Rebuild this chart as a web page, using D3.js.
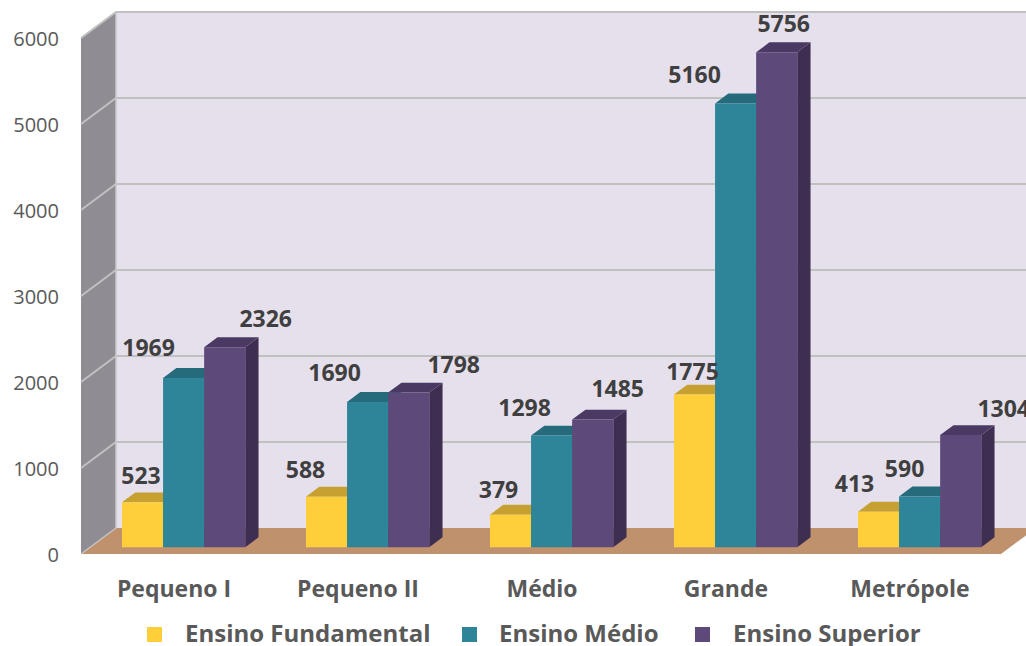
<!DOCTYPE html>
<html>
<head>
<meta charset="utf-8">
<script src="https://cdn.jsdelivr.net/npm/d3@7"></script>
<style>
  html, body { margin: 0; padding: 0; background: #ffffff; }
  svg { display: block; }
  text { font-family: "Open Sans", Lato, sans-serif; }
</style>
</head>
<body>
<svg id="chart" width="1026" height="646"></svg>
<script>
// ---- data ----
const categories = ["Pequeno I", "Pequeno II", "Médio", "Grande", "Metrópole"];
const seriesNames = ["Ensino Fundamental", "Ensino Médio", "Ensino Superior"];
const fundamental = [523, 588, 379, 1775, 413];
const medio = [1969, 1690, 1298, 5160, 590];
const superior = [2326, 1798, 1485, 5756, 1304];
const yTicks = [0, 1000, 2000, 3000, 4000, 5000, 6000];

// ---- layout / style (not data) ----
const seriesValues = [fundamental, medio, superior];
const colors = {
  front: ["#ffcf3b", "#2e8499", "#5e4a7a"],
  top:   ["#c6a030", "#256b7b", "#4a3a63"],
  side:  ["#b8922a", "#1f5b68", "#3e2f52"]
};
// label nudges [dx from bar centre, dy of baseline from bar front top], per series per category
const labelNudge = [
  [[-1.5,-18],[-21,-19],[-12,-17],[-2,-15],[-24,-20]],
  [[-35,-22],[-33,-21],[-27,-20],[-41,-20],[-15,-20]],
  [[41,-20],[45,-20],[25,-23],[7,-20],[43,-18]]
];

const svg = d3.select("#chart");
const floorLeft = 81, floorRight = 1001, floorY = 554;
const DX = 35, DY = 26;          // depth vector of the floor
const plotH = 516;               // 0..6000

const y = d3.scaleLinear().domain([0, 6000]).range([0, plotH]);
const x0 = d3.scaleBand().domain(categories).range([floorLeft, floorRight]);
const groupW = x0.bandwidth() * 0.67;
const x1 = d3.scaleBand().domain(d3.range(seriesNames.length)).range([0, groupW]);

// projection: front-plane x, value, depth fraction
const P = (x, v, d) => [x + d * DX, floorY - y(v) - d * DY];
const poly = pts => "M" + pts.map(p => p.join(",")).join("L") + "Z";

// ---- walls ----
const gWalls = svg.append("g");
gWalls.append("path")
  .attr("d", poly([P(floorLeft, 6000, 1), P(floorRight + 40, 6000, 1), P(floorRight + 40, 0, 1), P(floorLeft, 0, 1)]))
  .attr("fill", "#e5e0ec");
gWalls.append("path")
  .attr("d", poly([P(floorLeft, 0, 0), P(floorLeft, 6000, 0), P(floorLeft, 6000, 1), P(floorLeft, 0, 1)]))
  .attr("fill", "#908c94");
gWalls.append("path")
  .attr("d", poly([P(floorLeft, 0, 0), P(floorRight, 0, 0), P(floorRight, 0, 1), P(floorLeft, 0, 1)]))
  .attr("fill", "#c0916d");

yTicks.forEach(t => {
  if (t === 0) {
    gWalls.append("line")
      .attr("x1", P(floorLeft, t, 0)[0]).attr("y1", P(floorLeft, t, 0)[1])
      .attr("x2", P(floorLeft, t, 1)[0]).attr("y2", P(floorLeft, t, 1)[1])
      .attr("stroke", "#c4c4c4").attr("stroke-width", 1.5);
    return;
  }
  const a = P(floorLeft, t, 0), b = P(floorLeft, t, 1), c = P(floorRight + 40, t, 1);
  gWalls.append("path")
    .attr("d", `M${a}L${b}L${c}`)
    .attr("fill", "none").attr("stroke", "#c0c0c0").attr("stroke-width", 2);
});
gWalls.append("line")
  .attr("x1", P(floorLeft, 0, 1)[0]).attr("y1", P(floorLeft, 0, 1)[1])
  .attr("x2", P(floorLeft, 6000, 1)[0]).attr("y2", P(floorLeft, 6000, 1)[1])
  .attr("stroke", "#c8c8c8").attr("stroke-width", 1.5);

// ---- y tick labels ----
svg.append("g").selectAll("text").data(yTicks).join("text")
  .attr("x", 59)
  .attr("y", d => P(floorLeft, d, 0)[1] + 8)
  .attr("text-anchor", "end")
  .attr("font-size", 20)
  .attr("fill", "#595959")
  .text(d => d);

// ---- bars ----
const dF = 0.26, dB = 0.64;
const bw = x1.bandwidth();
const groupOffset = (x0.bandwidth() - groupW) / 2 + 1.5;
const gBars = svg.append("g");
const barData = [];
categories.forEach((c, ci) => {
  seriesValues.forEach((vals, si) => {
    barData.push({ c, ci, si, v: vals[ci], x: x0(c) + groupOffset + x1(si) });
  });
});
barData.forEach(b => {
  const g = gBars.append("g");
  const xl = b.x, xr = b.x + bw;
  g.append("path")
    .attr("d", poly([P(xr, 0, dF), P(xr, b.v, dF), P(xr, b.v, dB), P(xr, 0, dB)]))
    .attr("fill", colors.side[b.si]);
  g.append("path")
    .attr("d", poly([P(xl, b.v, dF), P(xr, b.v, dF), P(xr, b.v, dB), P(xl, b.v, dB)]))
    .attr("fill", colors.top[b.si]);
  g.append("path")
    .attr("d", poly([P(xl, 0, dF), P(xr, 0, dF), P(xr, b.v, dF), P(xl, b.v, dF)]))
    .attr("fill", colors.front[b.si]);
});

// ---- data labels ----
svg.append("g").selectAll("text").data(barData).join("text")
  .attr("x", d => P(d.x + bw / 2, d.v, dF)[0] + labelNudge[d.si][d.ci][0])
  .attr("y", d => P(d.x + bw / 2, d.v, dF)[1] + labelNudge[d.si][d.ci][1])
  .attr("text-anchor", "middle")
  .attr("font-size", 23)
  .attr("font-weight", "bold")
  .attr("fill", "#3f3f3f")
  .text(d => d.v);

// ---- category labels ----
svg.append("g").selectAll("text").data(categories).join("text")
  .attr("x", d => x0(d) + x0.bandwidth() / 2 + 1)
  .attr("y", 597)
  .attr("text-anchor", "middle")
  .attr("font-size", 23)
  .attr("font-weight", "bold")
  .attr("fill", "#595959")
  .text(d => d);

// ---- legend ----
const legendX = [147, 462, 695];
const lg = svg.append("g").selectAll("g").data(seriesNames).join("g")
  .attr("transform", (d, i) => `translate(${legendX[i]},627)`);
lg.append("rect").attr("width", 15).attr("height", 15)
  .attr("fill", (d, i) => colors.front[i]);
lg.append("text").attr("x", (d, i) => [38, 37, 38][i]).attr("y", 15)
  .attr("font-size", 24).attr("font-weight", "bold").attr("fill", "#595959")
  .text(d => d);
</script>
</body>
</html>
